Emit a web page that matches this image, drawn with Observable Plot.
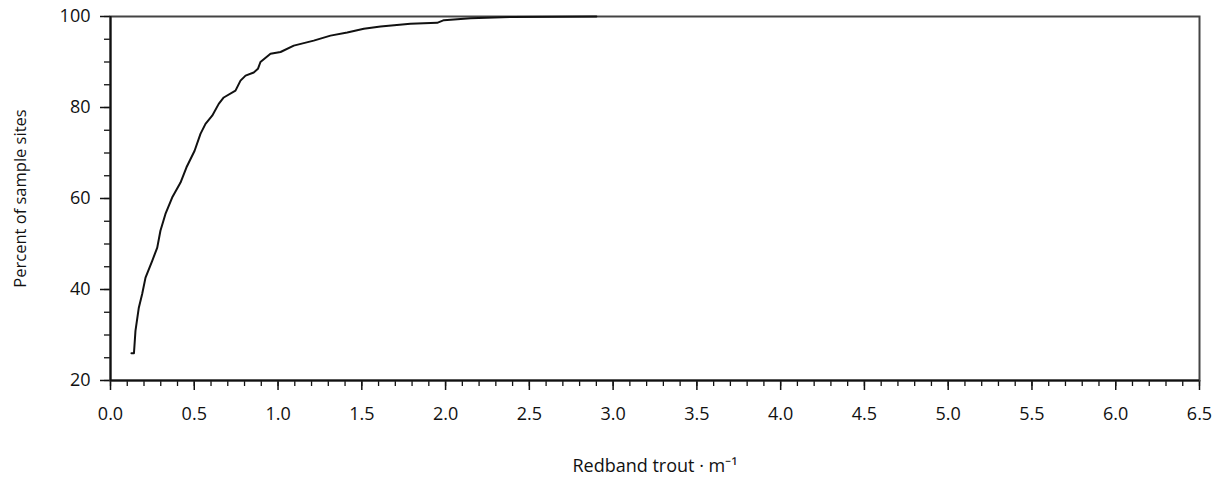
<!DOCTYPE html>
<html>
<head>
<meta charset="utf-8">
<script src="https://cdn.jsdelivr.net/npm/d3@7"></script>
<script src="https://cdn.jsdelivr.net/npm/@observablehq/plot@0.6"></script>
<style>
  body { margin: 0; background: #fff; }
  #chart svg { display: block; }
</style>
</head>
<body>
<div id="chart"></div>
<script>
// Redband trout density (fish per metre) vs cumulative percent of sample sites
const density = [0.125, 0.14, 0.149, 0.169, 0.189, 0.209, 0.249, 0.279, 0.298, 0.328, 0.368, 0.418, 0.453, 0.502, 0.537, 0.567, 0.607, 0.646, 0.676, 0.746, 0.776, 0.806, 0.855, 0.88, 0.895, 0.955, 1.015, 1.094, 1.213, 1.313, 1.413, 1.512, 1.612, 1.79, 1.95, 1.99, 2.15, 2.4, 2.9];
const percent = [26.0, 26.0, 30.9, 36.0, 39.0, 42.6, 46.3, 49.2, 52.9, 56.6, 60.2, 63.5, 66.8, 70.5, 74.2, 76.4, 78.2, 80.8, 82.2, 83.7, 85.9, 87.0, 87.7, 88.5, 90.0, 91.8, 92.2, 93.6, 94.7, 95.8, 96.5, 97.3, 97.8, 98.4, 98.6, 99.2, 99.6, 99.9, 100.0];
const xMajorTicks = d3.range(0, 6.51, 0.5);
const xMinorTicks = d3.range(0, 66).map(i => i / 10);
const yMajorTicks = [20, 40, 60, 80, 100];
const yMinorTicks = d3.range(20, 101, 5);
const xLabel = "Redband trout · m⁻¹";
const yLabel = "Percent of sample sites";

const data = density.map((d, i) => ({x: d, y: percent[i]}));

const chart = Plot.plot({
  width: 1222,
  height: 481,
  marginLeft: 110,
  marginRight: 23,
  marginTop: 16,
  marginBottom: 101,
  style: {fontFamily: "'Open Sans', sans-serif", fontSize: "18px", color: "#111", background: "#fff"},
  x: {domain: [0, 6.5], label: null},
  y: {domain: [20, 100], label: null},
  marks: [
    Plot.axisX({ticks: xMinorTicks, tickSize: 6, tickFormat: null, text: null, stroke: "#111", strokeWidth: 1.3}),
    Plot.axisX({ticks: xMajorTicks, tickSize: 10, tickPadding: 17, tickFormat: d3.format(".1f"), stroke: "#111", strokeWidth: 1.5, fontSize: 18, fill: "#111", label: null}),
    Plot.axisY({ticks: yMinorTicks, tickSize: 6, text: null, stroke: "#111", strokeWidth: 1.3}),
    Plot.axisY({ticks: yMajorTicks, tickSize: 10, tickPadding: 10, stroke: "#111", strokeWidth: 1.5, fontSize: 18, fill: "#111", label: null}),
    Plot.frame({stroke: "#444", strokeWidth: 2}),
    Plot.ruleX([0], {stroke: "#111", strokeWidth: 2}),
    Plot.ruleY([20], {stroke: "#111", strokeWidth: 2}),
    Plot.line(data, {x: "x", y: "y", stroke: "#111", strokeWidth: 2}),
    Plot.text([xLabel], {text: d => d, frameAnchor: "bottom", textAnchor: "middle", lineAnchor: "middle", dy: 86, fontSize: 18, fill: "#111"}),
    Plot.text([yLabel], {text: d => d, frameAnchor: "left", textAnchor: "middle", lineAnchor: "middle", dx: -90, rotate: -90, fontSize: 16.5, fill: "#111"})
  ]
});
document.getElementById("chart").appendChild(chart);
</script>
</body>
</html>
